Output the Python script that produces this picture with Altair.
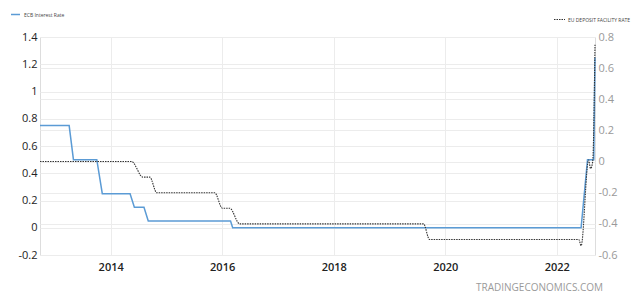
import altair as alt
import pandas as pd

# ECB main refinancing rate (left axis)
ecb_dates = ["2012-09-25", "2013-04-04", "2013-05-02", "2013-10-02", "2013-11-07",
             "2014-05-08", "2014-06-05", "2014-08-07", "2014-09-04", "2016-02-25",
             "2016-03-10", "2022-06-09", "2022-07-21", "2022-08-31", "2022-09-08"]
ecb_rates = [0.75, 0.75, 0.5, 0.5, 0.25, 0.25, 0.15, 0.15, 0.05, 0.05,
             0.0, 0.0, 0.5, 0.5, 1.25]

# EU deposit facility rate (right axis)
dep_dates = ["2012-09-25", "2014-05-18", "2014-07-31", "2014-09-14", "2014-10-30",
             "2015-11-13", "2016-01-03", "2016-02-20", "2016-04-25", "2019-08-12",
             "2019-09-20", "2022-05-25", "2022-06-09", "2022-07-28", "2022-08-10",
             "2022-08-24", "2022-09-08"]
dep_rates = [0.0, 0.0, -0.1, -0.1, -0.2, -0.2, -0.3, -0.3, -0.4, -0.4,
             -0.5, -0.5, -0.54, 0.01, -0.045, 0.0, 0.75]

left_ticks = [-0.2, 0, 0.2, 0.4, 0.6, 0.8, 1, 1.2, 1.4]
right_ticks = [-0.6, -0.4, -0.2, 0, 0.2, 0.4, 0.6, 0.8]
year_ticks = [2014, 2016, 2018, 2020, 2022]

ecb_df = pd.DataFrame({"date": ecb_dates, "rate": ecb_rates, "series": "ECB Interest Rate"})
dep_df = pd.DataFrame({"date": dep_dates, "rate": dep_rates, "series": "EU DEPOSIT FACILITY RATE"})
wm_df = pd.DataFrame({"t": ["TRADINGECONOMICS.COM"]})

FONT = "Open Sans"
label_expr = "datum.value < 0 ? '-' + format(-datum.value, '~g') : format(datum.value, '~g')"

x_enc = alt.X(
    "date:T",
    scale=alt.Scale(domain=[alt.DateTime(year=2012, month=9, date=25),
                            alt.DateTime(year=2022, month=9, date=8)], nice=False),
    axis=alt.Axis(values=[alt.DateTime(year=y, month=1, date=1) for y in year_ticks],
                  format="%Y", title=None, grid=True, gridColor="#ececec",
                  domain=False, ticks=False, labelPadding=6, labelFontSize=11,
                  labelColor="#222", labelFont=FONT, labelFontWeight=600),
)

ecb = alt.Chart(ecb_df).mark_line(strokeWidth=1.5, interpolate="linear").encode(
    x=x_enc,
    y=alt.Y("rate:Q", scale=alt.Scale(domain=[-0.2, 1.4], nice=False, zero=False),
            axis=alt.Axis(values=left_ticks, labelExpr=label_expr, title=None,
                          grid=True, gridColor="#ececec", domain=False, ticks=False,
                          labelPadding=3, labelFontSize=11, labelColor="#222",
                          labelFont=FONT, orient="left")),
    color=alt.Color("series:N",
                    scale=alt.Scale(domain=["ECB Interest Rate"], range=["#5b9bd5"]),
                    legend=alt.Legend(orient="none", legendX=-30, legendY=-28, title=None,
                                      padding=0, symbolType="stroke", symbolSize=81,
                                      symbolStrokeWidth=1.5, labelFontSize=5,
                                      labelColor="#444", labelOffset=3, labelFont=FONT)),
)

dep = alt.Chart(dep_df).mark_line(strokeWidth=1.1, interpolate="monotone",
                                  strokeDash=[1.5, 1]).encode(
    x=x_enc,
    y=alt.Y("rate:Q", scale=alt.Scale(domain=[-0.6, 0.8], nice=False, zero=False),
            axis=alt.Axis(values=right_ticks, labelExpr=label_expr, title=None,
                          grid=True, gridColor="#ececec", domain=False, ticks=False,
                          labelPadding=3, labelFontSize=11, labelColor="#999",
                          labelFont=FONT, orient="right")),
    color=alt.Color("series:N",
                    scale=alt.Scale(domain=["EU DEPOSIT FACILITY RATE"], range=["#333333"]),
                    legend=alt.Legend(orient="none", legendX=513, legendY=-24, title=None,
                                      padding=0, symbolType="stroke", symbolSize=121,
                                      symbolStrokeWidth=1.1, symbolDash=[1.5, 1],
                                      labelFontSize=5, labelColor="#444", labelOffset=2,
                                      labelFont=FONT)),
)

wm = alt.Chart(wm_df).mark_text(align="left", baseline="middle", fontSize=10,
                                color="#9a9a9a", font=FONT).encode(
    text="t:N", x=alt.value(436), y=alt.value(251))

chart = alt.layer(ecb, dep, wm).resolve_scale(
    y="independent", color="independent"
).resolve_legend(color="independent").properties(
    width=555, height=218,
    autosize=alt.AutoSizeParams(type="none"),
    padding={"left": 40, "top": 37, "right": 45, "bottom": 46},
).configure_view(stroke=None).configure(background="white")

chart.save("out.html", embed_options={"renderer": "svg", "actions": False})
